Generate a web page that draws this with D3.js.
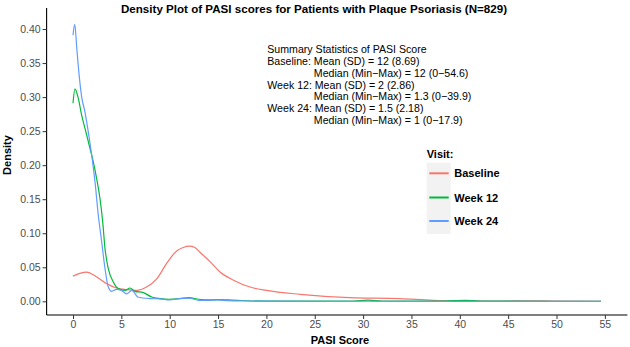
<!DOCTYPE html>
<html>
<head>
<meta charset="utf-8">
<script src="https://cdn.jsdelivr.net/npm/d3@7"></script>
<style>
  html, body { margin: 0; padding: 0; background: #fff; }
  svg { display: block; font-family: "Liberation Sans", Arial, Helvetica, sans-serif; }
</style>
</head>
<body>
<svg id="chart" width="630" height="347"></svg>
<script>
// ---- data ----
const visits = ["Baseline", "Week 12", "Week 24"];
const colors = ["#F8766D", "#00BA38", "#619CFF"];

const baselineScore = [0, 0.7, 1.4, 2.45, 3.48, 4.5, 5.55, 6.6, 7.6, 8.66, 9.7, 10.72, 11.4, 12.0, 12.6, 13.1, 14.2, 15.2, 16.6, 18.3, 20, 23.5, 28.6, 33.8, 37.2, 41, 44, 47, 50, 54.6];
const baselineDensity = [0.037, 0.041, 0.043, 0.0357, 0.026, 0.0196, 0.0172, 0.016, 0.021, 0.033, 0.056, 0.074, 0.079, 0.081, 0.079, 0.0725, 0.058, 0.043, 0.031, 0.021, 0.016, 0.0103, 0.0054, 0.004, 0.0015, 0.0005, 0.0003, 0.0008, 0.0003, 0.0001];

const week12Score = [0, 0.2, 0.55, 0.9, 1.24, 1.76, 2.1, 2.45, 2.79, 3.07, 3.31, 3.65, 4.17, 4.68, 5.38, 5.9, 6.4, 7.27, 8.14, 9, 10, 11, 12, 13, 14, 15, 16, 17, 18, 20, 25, 29, 30.5, 32, 38, 40.5, 43, 54.6];
const week12Density = [0.291, 0.312, 0.298, 0.273, 0.254, 0.2245, 0.205, 0.180, 0.151, 0.117, 0.0775, 0.048, 0.0284, 0.0187, 0.016, 0.0196, 0.0147, 0.0128, 0.0063, 0.004, 0.003, 0.004, 0.0054, 0.003, 0.002, 0.0025, 0.002, 0.0015, 0.0008, 0.0003, 0.0002, 0.0005, 0.0018, 0.0005, 0.0003, 0.0015, 0.0002, 0];

const week24Score = [0, 0.18, 0.4, 0.65, 0.9, 1.24, 1.58, 1.93, 2.28, 2.62, 2.97, 3.31, 3.65, 4.0, 4.5, 5.0, 5.55, 6.07, 6.75, 8.0, 9, 10, 11, 12, 13, 14, 15, 16, 18, 20, 25, 30, 40, 54.6];
const week24Density = [0.391, 0.407, 0.37, 0.33, 0.30, 0.278, 0.249, 0.215, 0.175, 0.126, 0.087, 0.048, 0.021, 0.0147, 0.0176, 0.016, 0.011, 0.016, 0.006, 0.004, 0.0035, 0.002, 0.004, 0.0045, 0.0015, 0.0012, 0.002, 0.001, 0.0005, 0.0002, 0.0001, 0.0001, 0, 0];

const xTicks = [0, 5, 10, 15, 20, 25, 30, 35, 40, 45, 50, 55];
const yTicks = [0, 0.05, 0.10, 0.15, 0.20, 0.25, 0.30, 0.35, 0.40];

const titleText = "Density Plot of PASI scores for Patients with Plaque Psoriasis (N=829)";
const summaryLines = [
  "Summary Statistics of PASI Score",
  "Baseline: Mean (SD) = 12 (8.69)",
  "Median (Min\u2212Max) = 12 (0\u221254.6)",
  "Week 12: Mean (SD) = 2 (2.86)",
  "Median (Min\u2212Max) = 1.3 (0\u221239.9)",
  "Week 24: Mean (SD) = 1.5 (2.18)",
  "Median (Min\u2212Max) = 1 (0\u221217.9)"
];
const summaryIndented = [false, false, true, false, true, false, true];

const series = [
  { name: visits[0], score: baselineScore, density: baselineDensity, color: colors[0] },
  { name: visits[1], score: week12Score, density: week12Density, color: colors[1] },
  { name: visits[2], score: week24Score, density: week24Density, color: colors[2] }
];

// ---- layout ----
const svg = d3.select("#chart");
const panel = { left: 46.6, right: 627.4, top: 8, bottom: 315 };

const x = d3.scaleLinear().domain([-2.73, 57.33]).range([panel.left, panel.right]);
const y = d3.scaleLinear().domain([-0.0201, 0.4309]).range([panel.bottom, panel.top]);

// curves
const line = d3.line()
  .x(d => x(d[0]))
  .y(d => y(d[1]))
  .curve(d3.curveMonotoneX);

svg.append("g").selectAll("path")
  .data(series)
  .join("path")
  .attr("d", s => line(s.score.map((v, i) => [v, s.density[i]])))
  .attr("fill", "none")
  .attr("stroke", s => s.color)
  .attr("stroke-width", 1.2);

// axes
const xAxis = svg.append("g")
  .attr("transform", `translate(0,${panel.bottom})`)
  .call(d3.axisBottom(x).tickValues(xTicks).tickFormat(d3.format("d")).tickSizeInner(4).tickSizeOuter(0).tickPadding(2));
const yAxis = svg.append("g")
  .attr("transform", `translate(${panel.left},0)`)
  .call(d3.axisLeft(y).tickValues(yTicks).tickFormat(d3.format(".2f")).tickSizeInner(4).tickSizeOuter(0).tickPadding(2));

[xAxis, yAxis].forEach(g => {
  g.select(".domain").attr("stroke", "#000").attr("stroke-width", 1.1);
  g.selectAll(".tick line").attr("stroke", "#333").attr("stroke-width", 1);
  g.selectAll(".tick text").attr("fill", "#4D4D4D").style("font-size", "10.5px");
});
xAxis.select(".domain").attr("d", `M${panel.left},0H${panel.right}`);
yAxis.select(".domain").attr("d", `M0,${panel.top}V${panel.bottom}`);

// titles
svg.append("text")
  .attr("x", 314).attr("y", 12.5)
  .attr("text-anchor", "middle")
  .style("font-size", "11.6px").style("font-weight", "bold")
  .text(titleText);

svg.append("text")
  .attr("x", 340).attr("y", 344)
  .attr("text-anchor", "middle")
  .style("font-size", "11px").style("font-weight", "bold")
  .text("PASI Score");

svg.append("text")
  .attr("transform", `translate(11,155) rotate(-90)`)
  .attr("text-anchor", "middle")
  .style("font-size", "11px").style("font-weight", "bold")
  .text("Density");

// summary annotation
const annFont = 10.6, lineH = 11.9;
const annX = 267.3, annY0 = 52.8;
const ann = svg.append("g").style("font-size", annFont + "px").attr("fill", "#000");
// indent of the "Median" rows aligns with the "Mean" text after "Baseline: "
const probe = ann.append("text").attr("x", 0).attr("y", -50).text("Baseline:\u00A0");
const indent = probe.node().getComputedTextLength();
probe.remove();
summaryLines.forEach((t, i) => {
  ann.append("text")
    .attr("x", summaryIndented[i] ? annX + indent : annX)
    .attr("y", annY0 + lineH * i)
    .text(t);
});

// legend
const leg = svg.append("g");
leg.append("text").attr("x", 426.7).attr("y", 158)
  .style("font-size", "11px").style("font-weight", "bold").text("Visit:");
leg.append("rect").attr("x", 426.7).attr("y", 162.7).attr("width", 24).attr("height", 71.3).attr("fill", "#F2F2F2");
const keyY = [173.3, 197.5, 221];
series.forEach((s, i) => {
  leg.append("line")
    .attr("x1", 429.3).attr("x2", 448.7)
    .attr("y1", keyY[i]).attr("y2", keyY[i])
    .attr("stroke", s.color).attr("stroke-width", 2);
  leg.append("text").attr("x", 454.3).attr("y", keyY[i] + 4)
    .style("font-size", "11px").style("font-weight", "bold").text(s.name);
});
</script>
</body>
</html>
